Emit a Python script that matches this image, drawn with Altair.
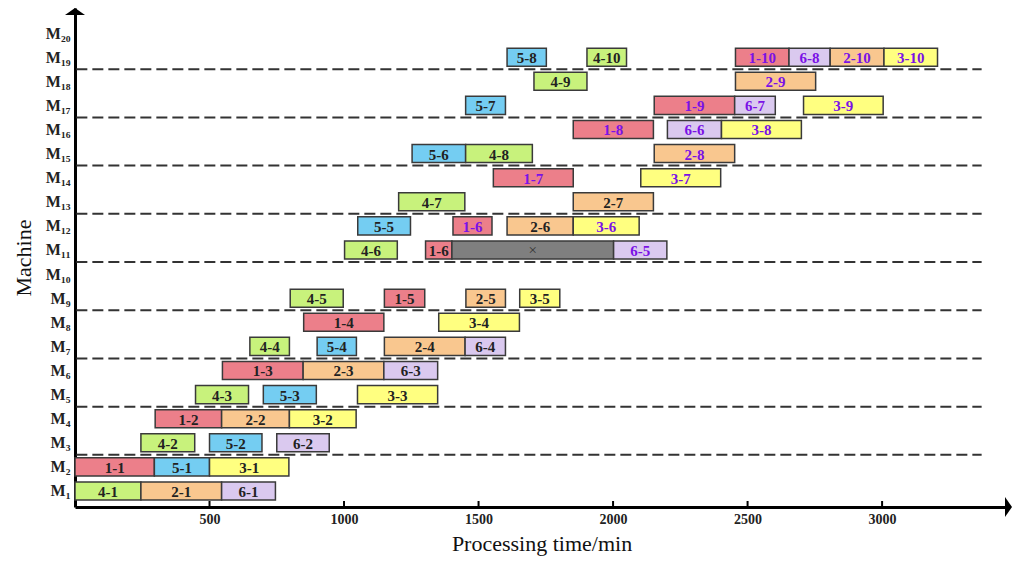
import altair as alt
import pandas as pd
import numpy as np

# ---- data ----
machine = [1, 1, 1,
           2, 2, 2,
           3, 3, 3,
           4, 4, 4,
           5, 5, 5,
           6, 6, 6,
           7, 7, 7, 7,
           8, 8,
           9, 9, 9, 9,
           11, 11, 11, 11,
           12, 12, 12, 12,
           13, 13,
           14, 14,
           15, 15, 15,
           16, 16, 16,
           17, 17, 17, 17,
           18, 18,
           19, 19, 19, 19, 19, 19]
op = ["4-1", "2-1", "6-1",
      "1-1", "5-1", "3-1",
      "4-2", "5-2", "6-2",
      "1-2", "2-2", "3-2",
      "4-3", "5-3", "3-3",
      "1-3", "2-3", "6-3",
      "4-4", "5-4", "2-4", "6-4",
      "1-4", "3-4",
      "4-5", "1-5", "2-5", "3-5",
      "4-6", "1-6", "×", "6-5",
      "5-5", "1-6", "2-6", "3-6",
      "4-7", "2-7",
      "1-7", "3-7",
      "5-6", "4-8", "2-8",
      "1-8", "6-6", "3-8",
      "5-7", "1-9", "6-7", "3-9",
      "4-9", "2-9",
      "5-8", "4-10", "1-10", "6-8", "2-10", "3-10"]
start = [0, 245, 545,
         0, 295, 500,
         245, 500, 750,
         298, 545, 797,
         448, 700, 1050,
         548, 848, 1148,
         650, 900, 1150, 1450,
         850, 1352,
         800, 1150, 1453, 1653,
         1002, 1303, 1401, 2002,
         1051, 1405, 1606, 1852,
         1203, 1852,
         1555, 2103,
         1253, 1452, 2153,
         1852, 2202, 2403,
         1452, 2153, 2452, 2708,
         1706, 2455,
         1606, 1903, 2455, 2654, 2807, 3007]
end = [245, 545, 745,
       295, 500, 795,
       445, 695, 945,
       545, 797, 1045,
       645, 897, 1348,
       848, 1148, 1348,
       797, 1046, 1450, 1600,
       1148, 1652,
       997, 1300, 1600, 1802,
       1198, 1401, 2002, 2200,
       1247, 1550, 1852, 2097,
       1449, 2150,
       1852, 2400,
       1452, 1700, 2452,
       2150, 2403, 2700,
       1600, 2452, 2603, 3004,
       1903, 2753,
       1752, 2050, 2654, 2807, 3007, 3206]
# 1 = purple label text, 0 = black
purple = [0, 0, 0,
          0, 0, 0,
          0, 0, 0,
          0, 0, 0,
          0, 0, 0,
          0, 0, 0,
          0, 0, 0, 0,
          0, 0,
          0, 0, 0, 0,
          0, 0, 0, 1,
          0, 1, 0, 1,
          0, 0,
          1, 1,
          0, 0, 1,
          1, 1, 1,
          0, 1, 1, 1,
          0, 1,
          0, 0, 1, 1, 1, 1]

machine_names = ["M₁", "M₂", "M₃", "M₄", "M₅", "M₆", "M₇", "M₈", "M₉", "M₁₀",
                 "M₁₁", "M₁₂", "M₁₃", "M₁₄", "M₁₅", "M₁₆", "M₁₇", "M₁₈", "M₁₉", "M₂₀"]
x_ticks = [500, 1000, 1500, 2000, 2500, 3000]
dividers = [2.5, 4.5, 6.5, 8.5, 10.5, 12.5, 14.5, 16.5, 18.5]

job_domain = ["1", "2", "3", "4", "5", "6", "×"]
job_colors = ["#EC7F8A", "#F9C78F", "#FFFF80", "#C8F27C", "#74CDF2", "#DAC9EF", "#7F7F7F"]

X_MAX = 3468
Y_MIN, Y_MAX = 0.336, 21.04
HALF = 0.375
FONT = "Liberation Serif"

df = pd.DataFrame(dict(machine=machine, op=op, start=start, end=end, purple=purple))
df["job"] = df["op"].str[0]
df["y0"] = df["machine"] - HALF
df["y1"] = df["machine"] + HALF
df["mid"] = (df["start"] + df["end"]) / 2
df["tcolor"] = np.where(df["purple"] == 1, "#7A12E6", "#222222")

xs = alt.Scale(domain=[0, X_MAX], nice=False, zero=False)
ys = alt.Scale(domain=[Y_MIN, Y_MAX], nice=False, zero=False)

label_expr = "[''," + ",".join("'%s'" % m for m in machine_names) + "][datum.value]"

x_axis = alt.Axis(values=x_ticks, format="d", ticks=False, grid=False, domainColor="black",
                  domainWidth=3, labelFont=FONT, labelFontWeight="bold", labelFontSize=14,
                  labelColor="#222", labelPadding=5, title="Processing time/min", titleFont=FONT,
                  titleFontWeight="normal", titleFontSize=22, titleColor="#111", titlePadding=7)
y_axis = alt.Axis(values=list(range(1, 21)), labelExpr=label_expr, labelOverlap=False,
                  ticks=False, grid=False, domainColor="black", domainWidth=3, labelFont=FONT,
                  labelFontWeight="bold", labelFontSize=16, labelColor="#222", labelPadding=5,
                  title="Machine", titleFont=FONT, titleFontWeight="normal", titleFontSize=22,
                  titleColor="#111", titlePadding=10)


def X(field):
    return alt.X(field, scale=xs, axis=x_axis)


def Y(field):
    return alt.Y(field, scale=ys, axis=y_axis)


bars = alt.Chart(df).mark_rect(stroke="#3a3a3a", strokeWidth=1.5).encode(
    x=X("start:Q"), x2="end:Q", y=Y("y0:Q"), y2="y1:Q",
    color=alt.Color("job:N", scale=alt.Scale(domain=job_domain, range=job_colors), legend=None),
)

texts = alt.Chart(df).transform_filter("datum.op != '×'").mark_text(
    font=FONT, fontWeight="bold", fontSize=15, baseline="middle", align="center", dy=1
).encode(
    x=X("mid:Q"), y=Y("machine:Q"), text="op:N",
    color=alt.Color("tcolor:N", scale=None),
)

cross = alt.Chart(df).transform_filter("datum.op == '×'").mark_text(
    font=FONT, fontSize=15, baseline="middle", align="center", color="#333"
).encode(x=X("mid:Q"), y=Y("machine:Q"), text="op:N")

div_df = pd.DataFrame(dict(y=dividers, x0=[5] * len(dividers), x1=[3370] * len(dividers)))
divs = alt.Chart(div_df).mark_rule(strokeDash=[11, 5], strokeWidth=2, color="#333").encode(
    x=X("x0:Q"), x2="x1:Q", y=Y("y:Q"))

tick_df = pd.DataFrame(dict(x=x_ticks, y0=[Y_MIN] * len(x_ticks), y1=[Y_MIN + 0.25] * len(x_ticks)))
ticks = alt.Chart(tick_df).mark_rule(strokeWidth=2, color="black").encode(
    x=X("x:Q"), y=Y("y0:Q"), y2="y1:Q")

up_df = pd.DataFrame(dict(x=[0], y=[Y_MAX]))
up = alt.Chart(up_df).mark_point(shape="M-1,0.7L1,0.7L0,0Z", size=400, filled=True,
                                 color="black", opacity=1).encode(x=X("x:Q"), y=Y("y:Q"))
right_df = pd.DataFrame(dict(x=[X_MAX], y=[Y_MIN]))
right = alt.Chart(right_df).mark_point(shape="M-0.3,-1L0.4,0L-0.3,1Z", size=400, filled=True,
                                       color="black", opacity=1).encode(x=X("x:Q"), y=Y("y:Q"))

chart = alt.layer(divs, bars, texts, cross, ticks, up, right).properties(
    width=933, height=499,
    autosize=alt.AutoSizeParams(type="none"),
    padding={"left": 75, "top": 8, "right": 4, "bottom": 57},
    background="white",
).configure_view(stroke=None)

chart.save("out.html", embed_options={"renderer": "svg", "actions": False})
